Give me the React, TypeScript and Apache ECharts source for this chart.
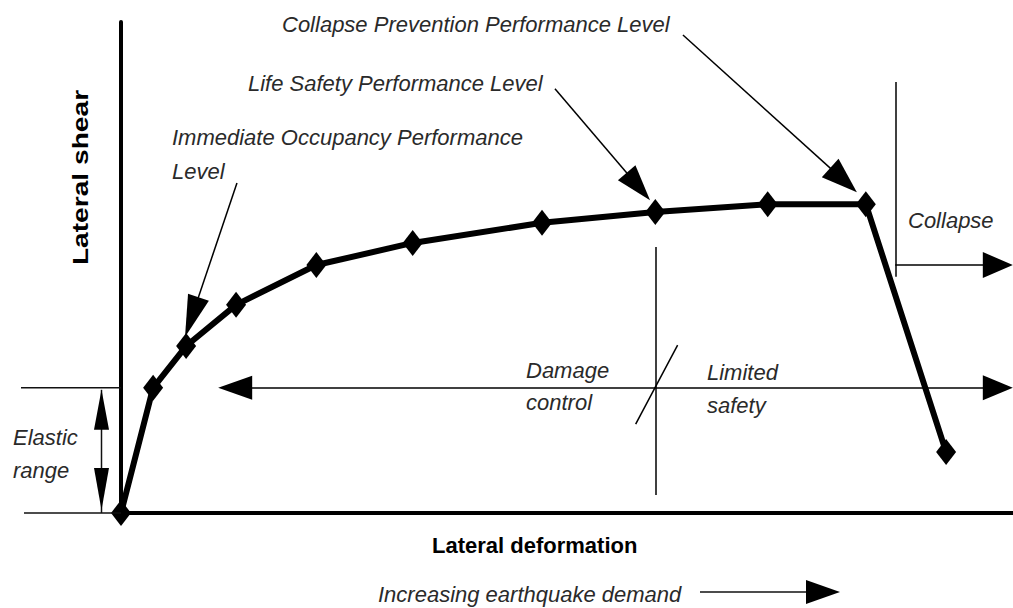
import React, { useEffect, useRef } from "react";
import * as echarts from "echarts";

// Pushover (capacity) curve: lateral deformation vs lateral shear (relative units)
const deformation = [0, 3.6, 7.3, 12.9, 21.9, 32.7, 47.2, 59.9, 72.5, 83.5, 92.5];
const shear = [0, 25.5, 34.0, 42.4, 50.5, 55.0, 59.1, 61.3, 62.9, 62.9, 12.4];

// Performance level pointer arrows, in data units: [fromX, fromY, toX, toY]
const immediateOccupancyArrow = [13.0, 67.2, 7.93, 39.9];
const lifeSafetyArrow = [48.65, 86.4, 58.0, 66.5];
const collapsePreventionArrow = [63.0, 97.35, 81.0, 67.8];

// Region annotations, in data units
const collapseDivider = [86.8, 87.8, 48.1]; // x, yTop, yBottom
const collapseArrow = [86.8, 98.3, 50.5]; // xFrom, xTo, y
const damageDivider = [60.0, 54.2, 3.67]; // x, yTop, yBottom
const damageSlash = [57.7, 18.1, 62.4, 34.2];
const rangeArrowX = [12.8, 98.3];

const labels = {
  cp: "Collapse Prevention Performance Level",
  ls: "Life Safety Performance Level",
  io1: "Immediate Occupancy Performance",
  io2: "Level",
  collapse: "Collapse",
  damage1: "Damage",
  damage2: "control",
  limited1: "Limited",
  limited2: "safety",
  elastic1: "Elastic",
  elastic2: "range",
  xName: "Lateral deformation",
  yName: "Lateral shear",
  demand: "Increasing earthquake demand",
};

export default function App() {
  const ref = useRef<HTMLDivElement>(null);

  useEffect(() => {
    const chart = echarts.init(ref.current!, null, { renderer: "svg" });
    const font = '"Liberation Sans", Arial, sans-serif';
    const points = deformation.map((x, i) => [x, shear[i]]);
    const yieldShear = shear[1];

    const arrow = (a: number[], size: number[]) => [
      { coord: [a[0], a[1]], symbol: "none" },
      { coord: [a[2], a[3]], symbol: "triangle", symbolSize: size },
    ];
    const plain = (x1: number, y1: number, x2: number, y2: number) => [
      { coord: [x1, y1], symbol: "none" },
      { coord: [x2, y2], symbol: "none" },
    ];

    chart.setOption({
      animation: false,
      backgroundColor: "#ffffff",
      grid: { left: 121, right: 0, top: 22, bottom: 95 },
      xAxis: {
        type: "value",
        min: 0,
        max: 100,
        axisLine: { show: true, onZero: false, lineStyle: { color: "#000", width: 4 } },
        axisTick: { show: false },
        axisLabel: { show: false },
        splitLine: { show: false },
      },
      yAxis: {
        type: "value",
        min: 0,
        max: 100,
        axisLine: { show: true, onZero: false, lineStyle: { color: "#000", width: 4 } },
        axisTick: { show: false },
        axisLabel: { show: false },
        splitLine: { show: false },
      },
      series: [
        {
          type: "line",
          data: points,
          clip: false,
          symbol: "diamond",
          symbolSize: [20, 26],
          itemStyle: { color: "#000" },
          lineStyle: { color: "#000", width: 6 },
          z: 5,
          silent: true,
          markLine: {
            silent: true,
            symbol: "none",
            label: { show: false },
            lineStyle: { color: "#000", width: 1.5, type: "solid" },
            emphasis: { disabled: true },
            data: [
              arrow(immediateOccupancyArrow, [22, 42]),
              arrow(lifeSafetyArrow, [23, 36]),
              arrow(collapsePreventionArrow, [25, 36]),
              plain(collapseDivider[0], collapseDivider[1], collapseDivider[0], collapseDivider[2]),
              [
                { coord: [collapseArrow[0], collapseArrow[2]], symbol: "none" },
                { coord: [collapseArrow[1], collapseArrow[2]], symbol: "triangle", symbolSize: [26, 30] },
              ],
              plain(damageDivider[0], damageDivider[1], damageDivider[0], damageDivider[2]),
              plain(damageSlash[0], damageSlash[1], damageSlash[2], damageSlash[3]),
              [
                { coord: [rangeArrowX[0], yieldShear], symbol: "triangle", symbolSize: [24, 34] },
                { coord: [rangeArrowX[1], yieldShear], symbol: "triangle", symbolSize: [25, 30] },
              ],
            ],
          },
        },
      ],
    });

    const [axisX, yTop] = chart.convertToPixel({ gridIndex: 0 }, [0, yieldShear]) as number[];
    const [, yBase] = chart.convertToPixel({ gridIndex: 0 }, [0, 0]) as number[];
    const arrowX = axisX - 19.5;

    const txt = (text: string, x: number, y: number, opts: any = {}) => ({
      type: "text",
      x,
      y,
      z: 20,
      silent: true,
      style: {
        text,
        fontFamily: font,
        fontSize: 22,
        fontStyle: "italic",
        fill: "#2a2a2a",
        align: "left",
        verticalAlign: "middle",
        ...opts,
      },
    });
    const ln = (x1: number, y1: number, x2: number, y2: number) => ({
      type: "line",
      z: 10,
      silent: true,
      shape: { x1, y1, x2, y2 },
      style: { stroke: "#111", lineWidth: 1.5 },
    });
    const tri = (pts: number[][]) => ({
      type: "polygon",
      z: 10,
      silent: true,
      shape: { points: pts },
      style: { fill: "#000" },
    });

    chart.setOption({
      graphic: [
        // Elastic range annotation (left of the shear axis)
        ln(21, yTop, axisX, yTop),
        ln(24, yBase, axisX, yBase),
        ln(arrowX, yTop + 2, arrowX, yBase),
        tri([[arrowX, yTop + 2], [arrowX - 7.5, yTop + 42], [arrowX + 7.5, yTop + 42]]),
        tri([[arrowX, yBase - 3], [arrowX - 7.5, yBase - 45], [arrowX + 7.5, yBase - 45]]),
        // Earthquake demand arrow
        ln(700, 592, 810, 592),
        tri([[806, 580], [806, 604], [840, 592]]),
        // Texts
        txt(labels.cp, 282, 24.5),
        txt(labels.ls, 248, 83.5),
        txt(labels.io1, 172, 137.5),
        txt(labels.io2, 172, 171.5),
        txt(labels.collapse, 908, 220.5),
        txt(labels.damage1, 526, 370.5),
        txt(labels.damage2, 526, 402.5),
        txt(labels.limited1, 707, 372.5),
        txt(labels.limited2, 707, 405.5),
        txt(labels.elastic1, 13, 437.5),
        txt(labels.elastic2, 13, 470.5),
        txt(labels.demand, 378, 594.5),
        txt(labels.xName, 432, 545.5, { fontStyle: "normal", fontWeight: "bold", fill: "#000" }),
        {
          type: "text",
          x: 80.5,
          y: 177.5,
          rotation: Math.PI / 2,
          scaleX: 1.28,
          z: 20,
          silent: true,
          style: {
            text: labels.yName,
            fontFamily: font,
            fontSize: 22,
            fontWeight: "bold",
            fill: "#000",
            align: "center",
            verticalAlign: "middle",
          },
        },
      ],
    });

    return () => chart.dispose();
  }, []);

  return (
    <div
      ref={ref}
      style={{ position: "fixed", left: 0, top: 0, width: 1013, height: 608, background: "#fff" }}
    />
  );
}
